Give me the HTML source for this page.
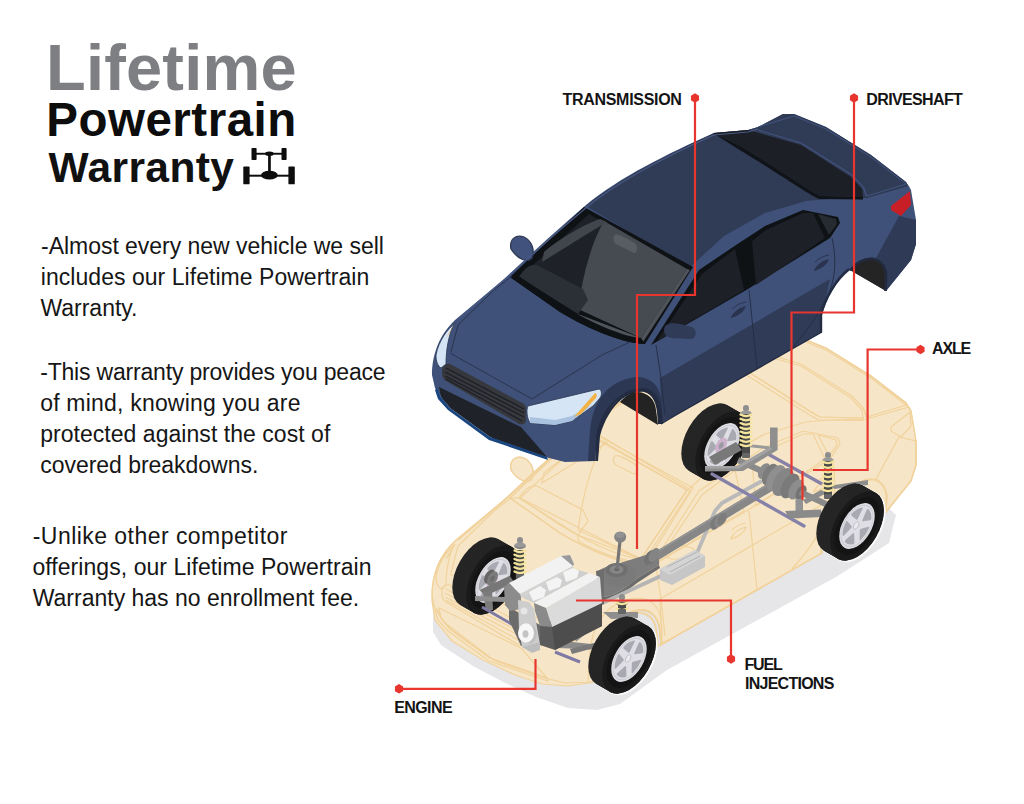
<!DOCTYPE html>
<html><head><meta charset="utf-8">
<style>
html,body{margin:0;padding:0;background:#fff;}
body{width:1024px;height:804px;position:relative;overflow:hidden;font-family:"Liberation Sans",sans-serif;}
.h{position:absolute;font-weight:bold;white-space:nowrap;line-height:1;}
.t{position:absolute;white-space:nowrap;font-size:23px;color:#161616;line-height:1;}
.lb{position:absolute;white-space:nowrap;font-size:16px;font-weight:bold;color:#141414;line-height:1;}
svg{position:absolute;left:0;top:0;}
</style></head><body>
<svg width="1024" height="804" viewBox="0 0 1024 804">

<defs><path id="body" d="M432,375 C432,360 436,338 455,320 L503,280 C530,255 550,236 586,205 C620,177 667,154 714,133 L748,130 L758,127 L783,114 L794,114 L826,127 L871,155 L906,182 L911,190 L916,220 L916,244 L911,260 L886,291 L850,270 C836,281 826,300 822,315 L822,332 L676,415 L661,424 L660,412 C659,400 654,391 645,389 C637,388 628,391 620,397 C610,404 601,418 597,435 L595,461 L565,462 L545,457 L495,440 L445,402 L435,388 L432,375 Z"/></defs>
<path d="M433,600 L433,632 L441,645 L473,666 L505,683 L536,697 L568,708 L597,710 L620,704 L667,670 L836,577 L889,543 L896,515 L880,500 L600,600 Z" fill="#e6e6e9"/>
<g transform="translate(0,221)">
<path d="M432,375 C432,360 436,338 455,320 L503,280 C530,255 550,236 586,205 C620,177 667,154 714,133 L748,130 L758,127 L783,114 L794,114 L826,127 L871,155 L906,182 L911,190 L916,220 L916,244 L911,260 L886,291 L850,270 C836,281 826,300 822,315 L822,332 L676,415 L661,424 L660,412 C659,400 654,391 645,389 C637,388 628,391 620,397 C610,404 601,418 597,435 L595,461 L568,465 L542,463 L515,454 L483,439 L452,420 L435,399 L432,380 Z" fill="#f6e6c7"/>
<g fill="none" stroke="#f1d29c" stroke-width="1.2">
<path d="M511,249 C509,239 516,234 524,237 C532,241 535,250 532,258 C528,263 518,260 511,249 Z" fill="#f6e6c7"/>
<g>
<use href="#body" />
<path d="M586,206 C620,178 667,155 714,133 L748,130 L758,127 L783,114 L794,114 L826,127 L871,155 L906,182 L911,190 L909,186 L867,198 L830,199 L806,201 L765,213 L724,236 L689,268 Z" />
<path d="M899,216 L916,220 L916,244 L911,260 L886,291 L887,274 C885,266 880,260 876,258 Z" />
<path d="M660,378 L830,279 L822,315 L822,332 L676,415 L662,422 Z" />
<path d="M588,461 L590,430 C592,410 600,394 612,386 C622,379 632,377 640,377 C652,379 659,386 661,398 L662,412 L661,424 L660,412 C659,400 654,391 645,389 C637,388 628,391 620,397 C610,404 601,418 597,435 L595,461 Z" />
<path d="M596,461 L598,435 C602,418 611,404 621,397.5 C628,392 637,389 645,390 C654,392 659,400 660,412 L661,424 L658,424 L657,412 C656,402 652,394 644,392 C637,391 629,394 622,399 C613,406 604,420 600,436 L598,461 Z" />
<path d="M596.5,461 L597.5,435 C601,418 610,403.5 620.5,397 C628,391.5 637,388.5 645,389.5 C654.5,391.5 659.5,400 660.5,412 L661.5,424" fill="none"  />
<path d="M620,402 C626,395 632,392 638,392 C648,393 655,399 656,410 L658,425 Z" />
<path d="M850,270 C856,261 866,257 874,258 C882,260 887,268 887,276 L886,291 Z" />
<path d="M850,270.5 C857,262 866,258 874,259 C882,261 886,268 886,276 L885.5,291" fill="none"  />
<path d="M849,269 C835,280 825,299 821,314.5 L821,332" fill="none"  />
<path d="M584,207 L693,267 L645,344 C625,344 590,330 560,312 L510,277 Z" />
<path d="M589,214 L687,269 L641,338 L520,277 Z" />
<path d="M604,221 L687,269 L641,338 L578,309 C582,280 590,245 604,221 Z" />
<path d="M519,277 C525,268 530,264 537,265 L583,289 L588,300 L578,314 Z" />
<path d="M578,314 L641,338 L687,269 L690,270 L643,342 C625,341 595,330 578,320 Z" />
<path d="M520,277 L560,304 C590,322 620,336 641,338 L645,344 C625,344 590,330 560,312 L510,277 Z" />
<path d="M542,262 L544,252 C560,238 585,224 600,219 L607,222 C590,232 565,248 542,262 Z" />
<path d="M614,236 C616,233 620,234 636,244 C638,248 637,253 634,253 L616,244 C613,242 613,238 614,236 Z" />
<path d="M651,345 L699,270 L736,245 L765,226 L803,210 L838,217 L840,223 L830,238 L748,289 Z" />
<path d="M657,341 L702,274 L735,249 L744,290 Z" />
<path d="M752,241 L766,230 L803,213 L813,213 L825,238 L756,285 Z" />
<path d="M818,214 L836,219 L837,224 L829,235 Z" />
<path d="M713,133 L748,130 L801,145 L851,177 L862,189 L863,197 L820,196 C805,188 785,173 740,146 Z" />
<path d="M713,133 L740,146 C785,173 805,188 820,196 L863,197 L863,199.5 L819,199 C803,191 783,176 738,149 Z" />
<path d="M758,130 L801,143 L852,175 L864,188 L866,196" fill="none"  />
<path d="M758,127 L794,116 L826,129 L871,157 L906,184 L867,196 L863,187" fill="none"  />
<path d="M891,206 L910,191 L911,205 L901,216 L891,210 Z" />
<path d="M511,249 C509,239 516,234 524,237 C532,241 535,250 532,258 C528,263 518,260 511,249 Z"   />
<path d="M664,330 C664,324 670,322 680,324 L692,327 C697,330 697,337 692,339 L672,338 C666,337 664,334 664,330 Z" />
<path d="M458,319 L505,279 C530,256 551,237 587,207 C621,179 667,156 714,135 L748,132 L758,129" fill="none"  />
<path d="M661,424 L676,415 L822,332" fill="none"  />
<g fill="none"  >
<path d="M749,290 L757,368"/><path d="M656,345 L661,378 L665,415"/>

<path d="M832,238 C836,255 836,275 830,290 C825,303 812,326 792,348"/>
</g>
<path d="M731,317 C735,310 741,307 746,306 C744,312 738,316 731,318 Z" />
<path d="M732,309 C736,305 741,303 746,302" fill="none"  />
<path d="M814,270 C818,263 824,260 829,259 C827,265 821,269 814,271 Z" />
<path d="M815,262 C819,258 824,256 829,255" fill="none"  />
<path d="M442,370 C443,365 446,363 450,364 L524,404 C526,406 526,408 526,410 L526,421 C525,424 522,425 519,424 L446,381 C443,379 442,376 442,373 Z" />
<g   fill="none"><path d="M446,368 L524,409"/><path d="M445,372 L524,413"/><path d="M445,376 L524,417"/><path d="M446,379 L522,421"/></g>
<path d="M439,387 L521,427 L547,457 L490,437 L450,408 L441,397 Z" />
<path d="M437,388 L441,397 L450,408 L490,437 L547,457 L548,460 L489,440 L448,410 L438,399 L435,390 Z" />
<path d="M528,406 L599,389 C602,390 602,395 600,398 L593,406 L572,421 L555,425 L530,423 C527,418 526,410 528,406 Z"   />
<path d="M530,417 L555,420 L572,416 L593,404 L572,421 L555,425 L530,423 Z" />
<path d="M574,417 L595,393 C597,393 597,396 596,398 L581,414 Z" />
<path d="M455,323 C447,330 439,340 436,355 C436,362 438,366 441,368 L446,364 C446,355 447,342 452,328 Z"   />
<path d="M446,338 L452,328 L455,323 L449,334 Z" />
<g fill="none"  ><path d="M450,353 L532,399 L602,355 L630,342"/><path d="M451,352 L458,325 L494,290 L512,276"/></g>
</g>
<path d="M432,375 C432,360 436,338 455,320 L503,280 C530,255 550,236 586,205 C620,177 667,154 714,133 L748,130 L758,127 L783,114 L794,114 L826,127 L871,155 L906,182 L911,190 L916,220 L916,244 L911,260 L886,291 L850,270 C836,281 826,300 822,315 L822,332 L676,415 L661,424 L660,412 C659,400 654,391 645,389 C637,388 628,391 620,397 C610,404 601,418 597,435 L595,461 L568,465 L542,463 L515,454 L483,439 L452,420 L435,399 L432,380 Z"/>
</g></g>
<g>
<use href="#body" fill="#3f5179"/>
<path d="M586,206 C620,178 667,155 714,133 L748,130 L758,127 L783,114 L794,114 L826,127 L871,155 L906,182 L911,190 L909,186 L867,198 L830,199 L806,201 L765,213 L724,236 L689,268 Z" fill="#303b56"/>
<path d="M899,216 L916,220 L916,244 L911,260 L886,291 L887,274 C885,266 880,260 876,258 Z" fill="#2f3a57"/>
<path d="M660,378 L830,279 L822,315 L822,332 L676,415 L662,422 Z" fill="#303b57"/>
<path d="M588,461 L590,430 C592,410 600,394 612,386 C622,379 632,377 640,377 C652,379 659,386 661,398 L662,412 L661,424 L660,412 C659,400 654,391 645,389 C637,388 628,391 620,397 C610,404 601,418 597,435 L595,461 Z" fill="#2c3754"/>
<path d="M596,461 L598,435 C602,418 611,404 621,397.5 C628,392 637,389 645,390 C654,392 659,400 660,412 L661,424 L658,424 L657,412 C656,402 652,394 644,392 C637,391 629,394 622,399 C613,406 604,420 600,436 L598,461 Z" fill="#212a3f"/>
<path d="M596.5,461 L597.5,435 C601,418 610,403.5 620.5,397 C628,391.5 637,388.5 645,389.5 C654.5,391.5 659.5,400 660.5,412 L661.5,424" fill="none" stroke="#232c42" stroke-width="2.6"/>
<path d="M620,402 C626,395 632,392 638,392 C648,393 655,399 656,410 L658,425 Z" fill="#232323"/>
<path d="M850,270 C856,261 866,257 874,258 C882,260 887,268 887,276 L886,291 Z" fill="#242424"/>
<path d="M850,270.5 C857,262 866,258 874,259 C882,261 886,268 886,276 L885.5,291" fill="none" stroke="#212a3f" stroke-width="2.6"/>
<path d="M849,269 C835,280 825,299 821,314.5 L821,332" fill="none" stroke="#232c43" stroke-width="2.4"/>
<path d="M584,207 L693,267 L645,344 C625,344 590,330 560,312 L510,277 Z" fill="#0f1215"/>
<path d="M589,214 L687,269 L641,338 L520,277 Z" fill="#1e2128"/>
<path d="M604,221 L687,269 L641,338 L578,309 C582,280 590,245 604,221 Z" fill="#464a51"/>
<path d="M519,277 C525,268 530,264 537,265 L583,289 L588,300 L578,314 Z" fill="#2b2f36"/>
<path d="M578,314 L641,338 L687,269 L690,270 L643,342 C625,341 595,330 578,320 Z" fill="#4f535a"/>
<path d="M520,277 L560,304 C590,322 620,336 641,338 L645,344 C625,344 590,330 560,312 L510,277 Z" fill="#0f1215"/>
<path d="M542,262 L544,252 C560,238 585,224 600,219 L607,222 C590,232 565,248 542,262 Z" fill="#41454c"/>
<path d="M614,236 C616,233 620,234 636,244 C638,248 637,253 634,253 L616,244 C613,242 613,238 614,236 Z" fill="#585c63"/>
<path d="M651,345 L699,270 L736,245 L765,226 L803,210 L838,217 L840,223 L830,238 L748,289 Z" fill="#0f1215"/>
<path d="M657,341 L702,274 L735,249 L744,290 Z" fill="#1d2027"/>
<path d="M752,241 L766,230 L803,213 L813,213 L825,238 L756,285 Z" fill="#1d2027"/>
<path d="M818,214 L836,219 L837,224 L829,235 Z" fill="#262a31"/>
<path d="M713,133 L748,130 L801,145 L851,177 L862,189 L863,197 L820,196 C805,188 785,173 740,146 Z" fill="#1c1f26"/>
<path d="M713,133 L740,146 C785,173 805,188 820,196 L863,197 L863,199.5 L819,199 C803,191 783,176 738,149 Z" fill="#101317"/>
<path d="M758,130 L801,143 L852,175 L864,188 L866,196" fill="none" stroke="#42547f" stroke-width="1.1"/>
<path d="M758,127 L794,116 L826,129 L871,157 L906,184 L867,196 L863,187" fill="none" stroke="#42547e" stroke-width="1"/>
<path d="M891,206 L910,191 L911,205 L901,216 L891,210 Z" fill="#c81f26"/>
<path d="M511,249 C509,239 516,234 524,237 C532,241 535,250 532,258 C528,263 518,260 511,249 Z" fill="#41537c" stroke="#2c3753" stroke-width="1.3"/>
<path d="M664,330 C664,324 670,322 680,324 L692,327 C697,330 697,337 692,339 L672,338 C666,337 664,334 664,330 Z" fill="#303b57"/>
<path d="M458,319 L505,279 C530,256 551,237 587,207 C621,179 667,156 714,135 L748,132 L758,129" fill="none" stroke="#495a85" stroke-width="1.1"/>
<path d="M661,424 L676,415 L822,332" fill="none" stroke="#222b42" stroke-width="1.3"/>
<g fill="none" stroke="#232c44" stroke-width="0.9">
<path d="M749,290 L757,368"/><path d="M656,345 L661,378 L665,415"/>

<path d="M832,238 C836,255 836,275 830,290 C825,303 812,326 792,348"/>
</g>
<path d="M731,317 C735,310 741,307 746,306 C744,312 738,316 731,318 Z" fill="#2a3450"/>
<path d="M732,309 C736,305 741,303 746,302" fill="none" stroke="#2a3450" stroke-width="1"/>
<path d="M814,270 C818,263 824,260 829,259 C827,265 821,269 814,271 Z" fill="#2a3450"/>
<path d="M815,262 C819,258 824,256 829,255" fill="none" stroke="#2a3450" stroke-width="1"/>
<path d="M442,370 C443,365 446,363 450,364 L524,404 C526,406 526,408 526,410 L526,421 C525,424 522,425 519,424 L446,381 C443,379 442,376 442,373 Z" fill="#36383e"/>
<g stroke="#1d1f24" stroke-width="1.3" fill="none"><path d="M446,368 L524,409"/><path d="M445,372 L524,413"/><path d="M445,376 L524,417"/><path d="M446,379 L522,421"/></g>
<path d="M439,387 L521,427 L547,457 L490,437 L450,408 L441,397 Z" fill="#1f2229"/>
<path d="M437,388 L441,397 L450,408 L490,437 L547,457 L548,460 L489,440 L448,410 L438,399 L435,390 Z" fill="#1a4680"/>
<path d="M528,406 L599,389 C602,390 602,395 600,398 L593,406 L572,421 L555,425 L530,423 C527,418 526,410 528,406 Z" fill="#d5e5f6" stroke="#2a3550" stroke-width="0.8"/>
<path d="M530,417 L555,420 L572,416 L593,404 L572,421 L555,425 L530,423 Z" fill="#a8c2e0"/>
<path d="M574,417 L595,393 C597,393 597,396 596,398 L581,414 Z" fill="#f5b244"/>
<path d="M455,323 C447,330 439,340 436,355 C436,362 438,366 441,368 L446,364 C446,355 447,342 452,328 Z" fill="#d5e5f6" stroke="#2a3550" stroke-width="0.8"/>
<path d="M446,338 L452,328 L455,323 L449,334 Z" fill="#f5b244"/>
<g fill="none" stroke="#2a344f" stroke-width="1"><path d="M450,353 L532,399 L602,355 L630,342"/><path d="M451,352 L458,325 L494,290 L512,276"/></g>
</g>
<circle r="31" transform="matrix(0.866,-0.5,0,1,479.14,572.00)" fill="#252525"/>
<circle r="31" transform="matrix(0.866,-0.5,0,1,480.88,573.00)" fill="#252525"/>
<circle r="31" transform="matrix(0.866,-0.5,0,1,482.61,574.00)" fill="#252525"/>
<circle r="31" transform="matrix(0.866,-0.5,0,1,484.34,575.00)" fill="#252525"/>
<circle r="31" transform="matrix(0.866,-0.5,0,1,486.07,576.00)" fill="#252525"/>
<circle r="31" transform="matrix(0.866,-0.5,0,1,487.80,577.00)" fill="#252525"/>
<circle r="31" transform="matrix(0.866,-0.5,0,1,489.54,578.00)" fill="#252525"/>
<circle r="31" transform="matrix(0.866,-0.5,0,1,491.27,579.00)" fill="#252525"/>
<circle r="31" transform="matrix(0.866,-0.5,0,1,493.00,580.00)" fill="#252525"/>
<circle r="31" transform="matrix(0.866,-0.5,0,1,493.00,580.00)" fill="#1a1a1a"/>
<circle r="26" transform="matrix(0.866,-0.5,0,1,493.00,580.00)" fill="#141414"/>
<g transform="matrix(0.866,-0.5,0,1,493.00,580.00)">
<circle r="20.5" fill="#dedee4"/>
<circle r="18.5" fill="none" stroke="#cacad2" stroke-width="1"/>
<path d="M-4.41,6.07 L-4.01,14.97 A15.5 15.5 0 0 1 -13.00,8.44 Z" fill="#a9a9b2" stroke="#a9a9b2" stroke-width="2.2" stroke-linejoin="round"/>
<path d="M-7.13,-2.32 L-15.48,0.81 A15.5 15.5 0 0 1 -12.05,-9.75 Z" fill="#a9a9b2" stroke="#a9a9b2" stroke-width="2.2" stroke-linejoin="round"/>
<path d="M-0.00,-7.50 L-5.55,-14.47 A15.5 15.5 0 0 1 5.55,-14.47 Z" fill="#a9a9b2" stroke="#a9a9b2" stroke-width="2.2" stroke-linejoin="round"/>
<path d="M7.13,-2.32 L12.05,-9.75 A15.5 15.5 0 0 1 15.48,0.81 Z" fill="#a9a9b2" stroke="#a9a9b2" stroke-width="2.2" stroke-linejoin="round"/>
<path d="M4.41,6.07 L13.00,8.44 A15.5 15.5 0 0 1 4.01,14.97 Z" fill="#a9a9b2" stroke="#a9a9b2" stroke-width="2.2" stroke-linejoin="round"/>
<circle r="7" cx="-1" cy="-1" fill="#cdb1cc"/>
<circle r="3" cx="-1" cy="-1" fill="#9a9aa3"/>
</g>
<circle r="31" transform="matrix(0.866,-0.5,0,1,708.14,438.00)" fill="#252525"/>
<circle r="31" transform="matrix(0.866,-0.5,0,1,709.88,439.00)" fill="#252525"/>
<circle r="31" transform="matrix(0.866,-0.5,0,1,711.61,440.00)" fill="#252525"/>
<circle r="31" transform="matrix(0.866,-0.5,0,1,713.34,441.00)" fill="#252525"/>
<circle r="31" transform="matrix(0.866,-0.5,0,1,715.07,442.00)" fill="#252525"/>
<circle r="31" transform="matrix(0.866,-0.5,0,1,716.80,443.00)" fill="#252525"/>
<circle r="31" transform="matrix(0.866,-0.5,0,1,718.54,444.00)" fill="#252525"/>
<circle r="31" transform="matrix(0.866,-0.5,0,1,720.27,445.00)" fill="#252525"/>
<circle r="31" transform="matrix(0.866,-0.5,0,1,722.00,446.00)" fill="#252525"/>
<circle r="31" transform="matrix(0.866,-0.5,0,1,722.00,446.00)" fill="#1a1a1a"/>
<circle r="26" transform="matrix(0.866,-0.5,0,1,722.00,446.00)" fill="#141414"/>
<g transform="matrix(0.866,-0.5,0,1,722.00,446.00)">
<circle r="20.5" fill="#dedee4"/>
<circle r="18.5" fill="none" stroke="#cacad2" stroke-width="1"/>
<path d="M-4.41,6.07 L-4.01,14.97 A15.5 15.5 0 0 1 -13.00,8.44 Z" fill="#a9a9b2" stroke="#a9a9b2" stroke-width="2.2" stroke-linejoin="round"/>
<path d="M-7.13,-2.32 L-15.48,0.81 A15.5 15.5 0 0 1 -12.05,-9.75 Z" fill="#a9a9b2" stroke="#a9a9b2" stroke-width="2.2" stroke-linejoin="round"/>
<path d="M-0.00,-7.50 L-5.55,-14.47 A15.5 15.5 0 0 1 5.55,-14.47 Z" fill="#a9a9b2" stroke="#a9a9b2" stroke-width="2.2" stroke-linejoin="round"/>
<path d="M7.13,-2.32 L12.05,-9.75 A15.5 15.5 0 0 1 15.48,0.81 Z" fill="#a9a9b2" stroke="#a9a9b2" stroke-width="2.2" stroke-linejoin="round"/>
<path d="M4.41,6.07 L13.00,8.44 A15.5 15.5 0 0 1 4.01,14.97 Z" fill="#a9a9b2" stroke="#a9a9b2" stroke-width="2.2" stroke-linejoin="round"/>
<circle r="7" cx="-1" cy="-1" fill="#cdb1cc"/>
<circle r="3" cx="-1" cy="-1" fill="#9a9aa3"/>
</g>
<path d="M697,553 L715,511 L722,503 L762,481" stroke="#b9b9b9" stroke-width="3.8" fill="none" stroke-linejoin="round"/>
<path d="M655,557 L772,486" stroke="#878787" stroke-width="8.5" fill="none"/>
<path d="M655,553 L772,482" stroke="#949494" stroke-width="2" fill="none"/>
<circle r="6.5" transform="matrix(0.866,-0.5,0,1,716,522.5)" fill="#7a7a7a"/>
<circle r="6.5" transform="matrix(0.866,-0.5,0,1,720,520)" fill="#878787"/>
<circle r="5.5" transform="matrix(0.866,-0.5,0,1,722,519)" fill="#7d7d7d"/>
<path d="M712,474 L804,526" stroke="#8581a8" stroke-width="3.3" stroke-linecap="round"/>
<path d="M738,460 L768,474" stroke="#8a8a8a" stroke-width="6"/>
<circle r="7" transform="matrix(0.866,-0.5,0,1,764,471)" fill="#8a8a8a"/>
<circle r="9.5" transform="matrix(0.866,-0.5,0,1,770,474.5)" fill="#7c7c7c"/>
<circle r="11.5" transform="matrix(0.866,-0.5,0,1,776,478)" fill="#8f8f8f"/>
<circle r="12.5" transform="matrix(0.866,-0.5,0,1,783,482)" fill="#858585"/>
<circle r="11" transform="matrix(0.866,-0.5,0,1,790,486)" fill="#7a7a7a"/>
<circle r="9" transform="matrix(0.866,-0.5,0,1,796,489.5)" fill="#8d8d8d"/>
<circle r="6.5" transform="matrix(0.866,-0.5,0,1,801,492.5)" fill="#747474"/>
<path d="M800,492 L828,505" stroke="#8a8a8a" stroke-width="6"/>
<path d="M768,454 L822,484" stroke="#8581a8" stroke-width="3.2" stroke-linecap="round"/>
<path d="M709,457 L736,442 L742,450 L715,465 Z" fill="#797979"/>
<path d="M743,445 L770,448" stroke="#9a9a9a" stroke-width="3"/>
<path d="M705,466 L737,466 L770,447 L770,427.5 L777.6,427.5 L777.6,450 L743,471 L705,471.5 Z" fill="#8f8f8f"/>
<path d="M705,466 L737,466 L770,447 L772,449 L739,468.5 L705,468.5 Z" fill="#a3a3a3"/>
<path d="M795.5,499 L803,499 L803,512 L795.5,512 Z" fill="#939393"/>
<path d="M785,511 L821,509.6 L822.4,517 L789.6,518.5 Z" fill="#8a8a8a"/>
<path d="M803,500 L828,486 L868,480 L868,485 L834,489 L806,504 Z" fill="#8d8d8d"/>
<path d="M597,572 C603,567 612,565 620,563 L646,555 L655,552 C658,556 660,561 659,565 L636,579 C628,586 618,595 600,598 Z" fill="#7d7d7d"/>
<path d="M600,598 C618,595 628,586 636,579 L659,565 L660,568 L637,583 C628,590 618,598 601,601 Z" fill="#6c6c6c"/>
<ellipse cx="619" cy="575" rx="17" ry="12" fill="#7a7a7a"/>
<circle r="6.8" transform="matrix(0.866,-0.5,0,1,650,557.5)" fill="#737373"/>
<circle r="6.3" transform="matrix(0.866,-0.5,0,1,654,555)" fill="#848484"/>
<ellipse cx="616.5" cy="570" rx="11" ry="7" fill="#6f6f6f"/>
<ellipse cx="616.5" cy="569.5" rx="7" ry="4.3" fill="#868686"/>
<ellipse cx="616.8" cy="569.5" rx="2.6" ry="1.8" fill="#666"/>
<path d="M617,569 L620,541" stroke="#767676" stroke-width="3.2"/>
<ellipse cx="620.2" cy="537" rx="6" ry="5.5" fill="#838383"/>
<ellipse cx="620" cy="535" rx="4.5" ry="3" fill="#929292"/>
<path d="M596,606 L663,575" stroke="#b5b5b5" stroke-width="4"/>
<path d="M660,569 L695,550 L705,556 L705,567 L672,585 L660,580 Z" fill="#c6c6c6"/>
<path d="M660,569 L695,550 L705,556 L670,575 Z" fill="#d4d4d4"/>
<g stroke="#b0b0b0" stroke-width="1"><path d="M670,572 L700,556"/><path d="M667,567 L697,552"/></g>
<circle r="6.3" transform="matrix(0.866,-0.5,0,1,489.5,576.5)" fill="#666"/>
<circle r="6.3" transform="matrix(0.866,-0.5,0,1,492.5,578.5)" fill="#7b7b7b"/>
<circle r="2.5" transform="matrix(0.866,-0.5,0,1,492.5,578.5)" fill="#6a6a6a"/>
<path d="M479.6,590 L509.8,575.7 L514.3,582.4 L485.2,596 Z" fill="#777"/>
<path d="M483,592 L492,590 L493,610 L486,611 Z" fill="#7b7b7b"/>
<path d="M475,596 L505,597 L505,602 L475,601 Z" fill="#8e8e8e"/>
<path d="M482,607 L515,626" stroke="#7e7aa3" stroke-width="3"/>
<path d="M555,652 L580,662" stroke="#7e7aa3" stroke-width="3"/>
<path d="M555,640 L600,645 L603,650 L558,648 Z" fill="#8a8a8a"/>
<path d="M570,649 L602,641 L605,645 L572,654 Z" fill="#7a7a7a"/>
<path d="M603,612 L638,612 L638,618 L611,619 Z" fill="#8e8e8e"/>
<path d="M600,620 L575,640" stroke="#8a8a8a" stroke-width="4"/>
<rect x="517" y="537" width="6" height="6.5" rx="3" fill="#8e8e8e"/>
<ellipse cx="520" cy="546" rx="5.8" ry="3" fill="#7c7c7c"/>
<ellipse cx="520" cy="545" rx="5.5" ry="2.5" fill="#9a9a9a"/>
<rect x="516" y="550" width="8" height="28" fill="#4a4a4a"/>
<path d="M514.5,550.5 Q520,553.7 525.5,550.5" fill="none" stroke="#f4e49c" stroke-width="2.3" stroke-linecap="round"/>
<path d="M514.5,554.7 Q520,557.9 525.5,554.7" fill="none" stroke="#f4e49c" stroke-width="2.3" stroke-linecap="round"/>
<path d="M514.5,558.9 Q520,562.1 525.5,558.9" fill="none" stroke="#f4e49c" stroke-width="2.3" stroke-linecap="round"/>
<path d="M514.5,563.1 Q520,566.3 525.5,563.1" fill="none" stroke="#f4e49c" stroke-width="2.3" stroke-linecap="round"/>
<path d="M514.5,567.3 Q520,570.5 525.5,567.3" fill="none" stroke="#f4e49c" stroke-width="2.3" stroke-linecap="round"/>
<path d="M514.5,571.5 Q520,574.7 525.5,571.5" fill="none" stroke="#f4e49c" stroke-width="2.3" stroke-linecap="round"/>
<rect x="516" y="574" width="8" height="5" rx="1" fill="#666"/>
<rect x="743" y="405" width="6" height="6.5" rx="3" fill="#8e8e8e"/>
<ellipse cx="746" cy="414" rx="5.8" ry="3" fill="#7c7c7c"/>
<ellipse cx="746" cy="413" rx="5.5" ry="2.5" fill="#9a9a9a"/>
<rect x="742" y="414" width="8" height="43" fill="#4a4a4a"/>
<path d="M740.5,414.5 Q746,417.7 751.5,414.5" fill="none" stroke="#f4e49c" stroke-width="2.3" stroke-linecap="round"/>
<path d="M740.5,418.8 Q746,422.0 751.5,418.8" fill="none" stroke="#f4e49c" stroke-width="2.3" stroke-linecap="round"/>
<path d="M740.5,423.1 Q746,426.3 751.5,423.1" fill="none" stroke="#f4e49c" stroke-width="2.3" stroke-linecap="round"/>
<path d="M740.5,427.4 Q746,430.6 751.5,427.4" fill="none" stroke="#f4e49c" stroke-width="2.3" stroke-linecap="round"/>
<path d="M740.5,431.6 Q746,434.8 751.5,431.6" fill="none" stroke="#f4e49c" stroke-width="2.3" stroke-linecap="round"/>
<path d="M740.5,435.9 Q746,439.1 751.5,435.9" fill="none" stroke="#f4e49c" stroke-width="2.3" stroke-linecap="round"/>
<path d="M740.5,440.2 Q746,443.4 751.5,440.2" fill="none" stroke="#f4e49c" stroke-width="2.3" stroke-linecap="round"/>
<path d="M740.5,444.5 Q746,447.7 751.5,444.5" fill="none" stroke="#f4e49c" stroke-width="2.3" stroke-linecap="round"/>
<rect x="742" y="453" width="8" height="5" rx="1" fill="#666"/>
<rect x="825" y="452" width="6" height="6.5" rx="3" fill="#8e8e8e"/>
<ellipse cx="828" cy="461" rx="5.8" ry="3" fill="#7c7c7c"/>
<ellipse cx="828" cy="460" rx="5.5" ry="2.5" fill="#9a9a9a"/>
<rect x="824" y="461" width="8" height="37" fill="#4a4a4a"/>
<path d="M822.5,461.5 Q828,464.7 833.5,461.5" fill="none" stroke="#f4e49c" stroke-width="2.3" stroke-linecap="round"/>
<path d="M822.5,466.2 Q828,469.4 833.5,466.2" fill="none" stroke="#f4e49c" stroke-width="2.3" stroke-linecap="round"/>
<path d="M822.5,470.8 Q828,474.0 833.5,470.8" fill="none" stroke="#f4e49c" stroke-width="2.3" stroke-linecap="round"/>
<path d="M822.5,475.5 Q828,478.7 833.5,475.5" fill="none" stroke="#f4e49c" stroke-width="2.3" stroke-linecap="round"/>
<path d="M822.5,480.2 Q828,483.4 833.5,480.2" fill="none" stroke="#f4e49c" stroke-width="2.3" stroke-linecap="round"/>
<path d="M822.5,484.8 Q828,488.0 833.5,484.8" fill="none" stroke="#f4e49c" stroke-width="2.3" stroke-linecap="round"/>
<path d="M822.5,489.5 Q828,492.7 833.5,489.5" fill="none" stroke="#f4e49c" stroke-width="2.3" stroke-linecap="round"/>
<rect x="824" y="494" width="8" height="5" rx="1" fill="#666"/>
<rect x="619" y="594" width="6" height="6.5" rx="3" fill="#8e8e8e"/>
<ellipse cx="622" cy="603" rx="5.8" ry="3" fill="#7c7c7c"/>
<ellipse cx="622" cy="602" rx="5.5" ry="2.5" fill="#9a9a9a"/>
<rect x="618" y="602" width="8" height="11" fill="#4a4a4a"/>
<path d="M616.5,602.5 Q622,605.7 627.5,602.5" fill="none" stroke="#f4e49c" stroke-width="2.3" stroke-linecap="round"/>
<path d="M616.5,608.5 Q622,611.7 627.5,608.5" fill="none" stroke="#f4e49c" stroke-width="2.3" stroke-linecap="round"/>
<rect x="618" y="609" width="8" height="5" rx="1" fill="#666"/>
<path d="M596,571 L604,569 L604,604 L598,606 Z" fill="#6d6d6d"/>
<path d="M509,607 L540,625 L540,645 L521,646 L509,620 Z" fill="#6b6b6b"/>
<path d="M540,625 L602,603 L602,626 L555,650 L540,645 Z" fill="#5b5b5b"/>
<path d="M552,627 L602,603 L602,626 L555,650 Z" fill="#4d4d4d"/>
<path d="M504,587 L509,583 L521,594 L521,609 L510,611 L505,605 Z" fill="#8c8c8c"/>
<path d="M509,583 L561,556 L570,555 L574,564 L573,566 L520,594 Z" fill="#f3f2f2"/>
<path d="M520,594 L573,566 L574,569 L521,597 Z" fill="#d2d2d2"/>
<path d="M561,556 L570,555 L574,564 L573,566 Z" fill="#9a9a9a"/>
<path d="M521,597 L574,569 L589,573 L534,603 Z" fill="#cfcfcf"/>
<path d="M529,592 L540,586 L546,590 L544,597 L533,601 Z" fill="#f4f4f4"/>
<path d="M546,582 L557,577 L562,580 L560,587 L549,591 Z" fill="#f4f4f4"/>
<path d="M563,572 L573,568 L579,571 L577,578 L566,582 Z" fill="#f4f4f4"/>
<path d="M534,603 L589,573 L600,577 L546,608 Z" fill="#f3f2f2"/>
<path d="M546,608 L600,577 L602,603 L552,627 Z" fill="#dcdbdb"/>
<path d="M534,603 L546,608 L552,627 L540,626 L535,611 Z" fill="#8a8a8a"/>
<path d="M518,600 L529,602 L534,609 L540,645 L534,650 L522,647 L519,629 Z" fill="#cdcdcd"/>
<circle cx="524" cy="611" r="3.5" fill="#e6e6e6"/>
<path d="M522,647 L540,642 L540,650 L532,653 Z" fill="#bdbdbd"/>
<ellipse cx="529" cy="634" rx="8" ry="9.5" fill="#bfbfbf"/>
<ellipse cx="526" cy="633" rx="8" ry="9.7" fill="#f7f7f7"/>
<ellipse cx="525.5" cy="634" rx="3" ry="3.8" fill="#c4c4c4"/>
<circle r="31.6" transform="matrix(0.866,-0.5,0,1,616.54,651.90)" fill="#fbfbfb"/>
<circle r="31.6" transform="matrix(0.866,-0.5,0,1,620.01,653.90)" fill="#fbfbfb"/>
<circle r="31.6" transform="matrix(0.866,-0.5,0,1,623.47,655.90)" fill="#fbfbfb"/>
<circle r="31.6" transform="matrix(0.866,-0.5,0,1,626.94,657.90)" fill="#fbfbfb"/>
<circle r="31.6" transform="matrix(0.866,-0.5,0,1,630.40,659.90)" fill="#fbfbfb"/>
<circle r="31" transform="matrix(0.866,-0.5,0,1,615.14,651.00)" fill="#252525"/>
<circle r="31" transform="matrix(0.866,-0.5,0,1,616.88,652.00)" fill="#252525"/>
<circle r="31" transform="matrix(0.866,-0.5,0,1,618.61,653.00)" fill="#252525"/>
<circle r="31" transform="matrix(0.866,-0.5,0,1,620.34,654.00)" fill="#252525"/>
<circle r="31" transform="matrix(0.866,-0.5,0,1,622.07,655.00)" fill="#252525"/>
<circle r="31" transform="matrix(0.866,-0.5,0,1,623.80,656.00)" fill="#252525"/>
<circle r="31" transform="matrix(0.866,-0.5,0,1,625.54,657.00)" fill="#252525"/>
<circle r="31" transform="matrix(0.866,-0.5,0,1,627.27,658.00)" fill="#252525"/>
<circle r="31" transform="matrix(0.866,-0.5,0,1,629.00,659.00)" fill="#252525"/>
<circle r="31" transform="matrix(0.866,-0.5,0,1,629.00,659.00)" fill="#1a1a1a"/>
<circle r="26" transform="matrix(0.866,-0.5,0,1,629.00,659.00)" fill="#141414"/>
<g transform="matrix(0.866,-0.5,0,1,629.00,659.00)">
<circle r="20.5" fill="#dedee4"/>
<circle r="18.5" fill="none" stroke="#cacad2" stroke-width="1"/>
<path d="M-4.41,6.07 L-4.01,14.97 A15.5 15.5 0 0 1 -13.00,8.44 Z" fill="#a9a9b2" stroke="#a9a9b2" stroke-width="2.2" stroke-linejoin="round"/>
<path d="M-7.13,-2.32 L-15.48,0.81 A15.5 15.5 0 0 1 -12.05,-9.75 Z" fill="#a9a9b2" stroke="#a9a9b2" stroke-width="2.2" stroke-linejoin="round"/>
<path d="M-0.00,-7.50 L-5.55,-14.47 A15.5 15.5 0 0 1 5.55,-14.47 Z" fill="#a9a9b2" stroke="#a9a9b2" stroke-width="2.2" stroke-linejoin="round"/>
<path d="M7.13,-2.32 L12.05,-9.75 A15.5 15.5 0 0 1 15.48,0.81 Z" fill="#a9a9b2" stroke="#a9a9b2" stroke-width="2.2" stroke-linejoin="round"/>
<path d="M4.41,6.07 L13.00,8.44 A15.5 15.5 0 0 1 4.01,14.97 Z" fill="#a9a9b2" stroke="#a9a9b2" stroke-width="2.2" stroke-linejoin="round"/>
<circle r="3.2" cx="-1" cy="-1" fill="#e9e9ee" stroke="#b9b9c2" stroke-width="0.8"/>
</g>
<circle r="31.6" transform="matrix(0.866,-0.5,0,1,844.54,518.90)" fill="#fbfbfb"/>
<circle r="31.6" transform="matrix(0.866,-0.5,0,1,848.01,520.90)" fill="#fbfbfb"/>
<circle r="31.6" transform="matrix(0.866,-0.5,0,1,851.47,522.90)" fill="#fbfbfb"/>
<circle r="31.6" transform="matrix(0.866,-0.5,0,1,854.94,524.90)" fill="#fbfbfb"/>
<circle r="31.6" transform="matrix(0.866,-0.5,0,1,858.40,526.90)" fill="#fbfbfb"/>
<circle r="31" transform="matrix(0.866,-0.5,0,1,843.14,518.00)" fill="#252525"/>
<circle r="31" transform="matrix(0.866,-0.5,0,1,844.88,519.00)" fill="#252525"/>
<circle r="31" transform="matrix(0.866,-0.5,0,1,846.61,520.00)" fill="#252525"/>
<circle r="31" transform="matrix(0.866,-0.5,0,1,848.34,521.00)" fill="#252525"/>
<circle r="31" transform="matrix(0.866,-0.5,0,1,850.07,522.00)" fill="#252525"/>
<circle r="31" transform="matrix(0.866,-0.5,0,1,851.80,523.00)" fill="#252525"/>
<circle r="31" transform="matrix(0.866,-0.5,0,1,853.54,524.00)" fill="#252525"/>
<circle r="31" transform="matrix(0.866,-0.5,0,1,855.27,525.00)" fill="#252525"/>
<circle r="31" transform="matrix(0.866,-0.5,0,1,857.00,526.00)" fill="#252525"/>
<circle r="31" transform="matrix(0.866,-0.5,0,1,857.00,526.00)" fill="#1a1a1a"/>
<circle r="26" transform="matrix(0.866,-0.5,0,1,857.00,526.00)" fill="#141414"/>
<g transform="matrix(0.866,-0.5,0,1,857.00,526.00)">
<circle r="20.5" fill="#dedee4"/>
<circle r="18.5" fill="none" stroke="#cacad2" stroke-width="1"/>
<path d="M-4.41,6.07 L-4.01,14.97 A15.5 15.5 0 0 1 -13.00,8.44 Z" fill="#a9a9b2" stroke="#a9a9b2" stroke-width="2.2" stroke-linejoin="round"/>
<path d="M-7.13,-2.32 L-15.48,0.81 A15.5 15.5 0 0 1 -12.05,-9.75 Z" fill="#a9a9b2" stroke="#a9a9b2" stroke-width="2.2" stroke-linejoin="round"/>
<path d="M-0.00,-7.50 L-5.55,-14.47 A15.5 15.5 0 0 1 5.55,-14.47 Z" fill="#a9a9b2" stroke="#a9a9b2" stroke-width="2.2" stroke-linejoin="round"/>
<path d="M7.13,-2.32 L12.05,-9.75 A15.5 15.5 0 0 1 15.48,0.81 Z" fill="#a9a9b2" stroke="#a9a9b2" stroke-width="2.2" stroke-linejoin="round"/>
<path d="M4.41,6.07 L13.00,8.44 A15.5 15.5 0 0 1 4.01,14.97 Z" fill="#a9a9b2" stroke="#a9a9b2" stroke-width="2.2" stroke-linejoin="round"/>
<circle r="3.2" cx="-1" cy="-1" fill="#e9e9ee" stroke="#b9b9c2" stroke-width="0.8"/>
</g>
<g fill="none" stroke="#e8362f" stroke-width="2.2">
<path d="M695,98 L695,295 L637,295 L637,549"/>
<path d="M854,98 L854,312.5 L791.5,312.5 L791.5,474"/>
<path d="M920.5,349.5 L867.6,349.5 L867.6,470 L813,470"/>
<path d="M802.5,471 L802.5,500"/>
<path d="M576,600.5 L731,600.5 L731,659"/>
<path d="M399,688.8 L535.5,688.8 L535.5,659"/>
</g>
<polygon points="699.07,100.35 695.00,102.70 690.93,100.35 690.93,95.65 695.00,93.30 699.07,95.65" fill="#e8362f"/>
<polygon points="858.07,100.35 854.00,102.70 849.93,100.35 849.93,95.65 854.00,93.30 858.07,95.65" fill="#e8362f"/>
<polygon points="924.57,351.85 920.50,354.20 916.43,351.85 916.43,347.15 920.50,344.80 924.57,347.15" fill="#e8362f"/>
<polygon points="735.07,661.35 731.00,663.70 726.93,661.35 726.93,656.65 731.00,654.30 735.07,656.65" fill="#e8362f"/>
<polygon points="403.07,691.15 399.00,693.50 394.93,691.15 394.93,686.45 399.00,684.10 403.07,686.45" fill="#e8362f"/>
</svg>
<div class="h" style="left:46px;top:35px;font-size:65px;color:#7e7f83;letter-spacing:0.2px;">Lifetime</div>
<div class="h" style="left:46.3px;top:95.8px;font-size:47.5px;color:#0d0d0d;letter-spacing:0.5px;">Powertrain</div>
<div class="h" style="left:48.5px;top:147px;font-size:42.5px;color:#111;letter-spacing:0.4px;">Warranty</div>
<svg width="60" height="50" style="left:240px;top:145px;" viewBox="240 145 60 50">
<g fill="#0d0d0d">
<rect x="251.5" y="148" width="5.1" height="12" rx="0.8"/><rect x="281.5" y="148" width="5.1" height="12" rx="0.8"/>
<rect x="256" y="152.8" width="26" height="1.9"/>
<ellipse cx="269.4" cy="153.8" rx="4.3" ry="2.2"/>
<rect x="268.1" y="154" width="2.7" height="18"/>
<rect x="243.3" y="166.5" width="6.3" height="17.8" rx="0.9"/><rect x="288.4" y="166.5" width="6.4" height="17.8" rx="0.9"/>
<rect x="249" y="174.7" width="40" height="2"/>
<ellipse cx="269.4" cy="175.2" rx="8.4" ry="4.4"/>
</g></svg>
<div class="t" style="left:41.0px;top:235.2px;letter-spacing:-0.03px;">-Almost every new vehicle we sell</div>
<div class="t" style="left:40.8px;top:266.0px;letter-spacing:0.04px;">includes our Lifetime Powertrain</div>
<div class="t" style="left:40.4px;top:297.1px;letter-spacing:0px;">Warranty.</div>
<div class="t" style="left:40.2px;top:361.4px;letter-spacing:-0.19px;">-This warranty provides you peace</div>
<div class="t" style="left:40.2px;top:392.1px;letter-spacing:0.2px;">of mind, knowing you are</div>
<div class="t" style="left:40.2px;top:422.8px;letter-spacing:0.04px;">protected against the cost of</div>
<div class="t" style="left:40.2px;top:454.3px;letter-spacing:-0.03px;">covered breakdowns.</div>
<div class="t" style="left:32.7px;top:524.9px;letter-spacing:0.46px;">-Unlike other competitor</div>
<div class="t" style="left:32.4px;top:556.0px;letter-spacing:0.06px;">offerings, our Lifetime Powertrain</div>
<div class="t" style="left:32.7px;top:587.1px;letter-spacing:0px;">Warranty has no enrollment fee.</div>
<div class="lb" style="left:562.5px;top:92.1px;letter-spacing:-0.3px;">TRANSMISSION</div>
<div class="lb" style="left:866.3px;top:91.6px;letter-spacing:-0.63px;">DRIVESHAFT</div>
<div class="lb" style="left:932.1px;top:340.6px;letter-spacing:-1.2px;">AXLE</div>
<div class="lb" style="left:744.4px;top:656.6px;letter-spacing:-1.1px;">FUEL</div>
<div class="lb" style="left:745.0px;top:676.4px;letter-spacing:-0.74px;">INJECTIONS</div>
<div class="lb" style="left:394.2px;top:700.3px;letter-spacing:-0.58px;">ENGINE</div>
</body></html>
